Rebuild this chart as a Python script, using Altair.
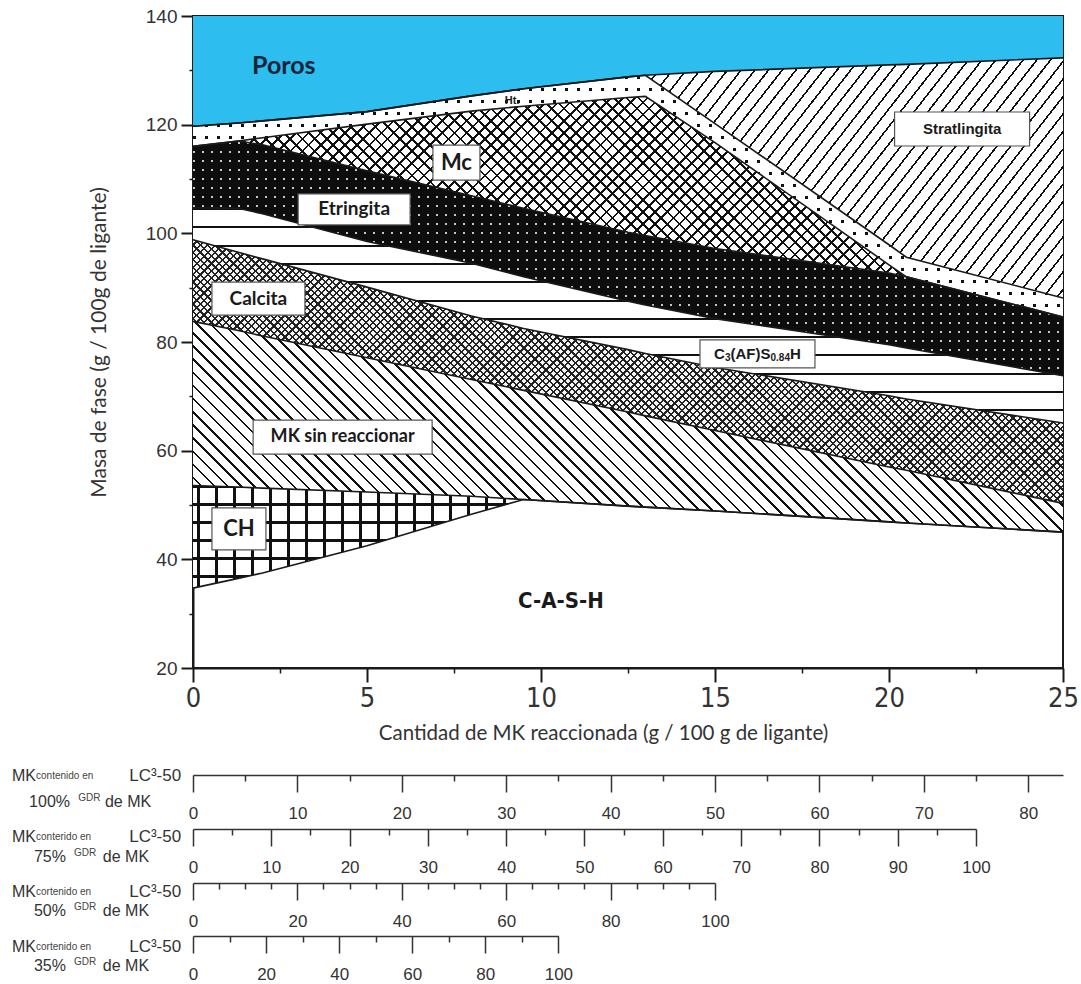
import altair as alt
import numpy as np
import pandas as pd

# ---------------- data ----------------
x_mk = [0, 1.3, 2, 5, 8, 9.5, 12.5, 13, 15, 20, 20.5, 25]
cash_top    = [34.7, 36.5, 37.5, 42.5, 48.3, 51.0, 49.8, 49.6, 48.9, 46.9, 46.7, 45.0]
ch_top      = [53.6, 53.3, 53.1, 52.4, 51.6, 51.0, 49.8, 49.6, 48.9, 46.9, 46.7, 45.0]
mk_top      = [83.8, 82.1, 81.1, 77.1, 73.1, 71.1, 67.1, 66.4, 63.7, 57.0, 56.4, 50.3]
calcita_top = [98.8, 96.5, 95.3, 90.1, 84.8, 82.5, 78.6, 77.9, 75.3, 70.1, 69.5, 65.1]
c3afs_top   = [104.7, 104.6, 103.6, 98.5, 94.5, 92.0, 87.5, 86.8, 84.3, 79.5, 78.9, 73.8]
etr_top     = [116.0, 117.0, 116.3, 111.5, 106.9, 104.6, 100.2, 99.6, 97.2, 92.7, 92.0, 84.6]
mc_top      = [116.0, 117.0, 117.6, 120.1, 122.5, 123.4, 125.0, 125.2, 116.7, 94.2, 92.0, 84.6]
ht_top      = [119.7, 120.3, 120.7, 122.4, 125.3, 126.6, 128.8, 129.1, 120.2, 97.9, 95.6, 88.1]
strat_top   = [119.7, 120.3, 120.7, 122.4, 125.3, 126.6, 128.8, 129.1, 129.8, 131.0, 131.1, 132.3]

x_ticks = [0, 5, 10, 15, 20, 25]
x_minor = [2.5, 7.5, 12.5, 17.5, 22.5]
y_ticks = [20, 40, 60, 80, 100, 120, 140]
y_minor = [30, 50, 70, 90, 110, 130]

# secondary scales: MK content of LC3-50 for each GDR
gdr_levels = [1.00, 0.75, 0.50, 0.35]
sub_major = [list(range(0, 81, 10)), list(range(0, 101, 10)),
             list(range(0, 101, 20)), list(range(0, 101, 20))]
sub_minor = [list(range(5, 80, 10)), list(range(5, 100, 10)),
             [v for v in range(5, 100, 5) if v % 20], list(range(10, 100, 20))]
sub_pct = ["100%", "75%", "50%", "35%"]
sub_small = ["contenido en", "conterido en", "cortenido en", "cortenido en"]

region_labels = ["Poros", "Ht.", "Mc", "Etringita", "Stratlingita", "Calcita",
                 "MK sin reaccionar", "CH", "C-A-S-H"]
label_x = [2.61, 9.17, 7.57, 4.63, 22.10, 1.88, 4.30, 1.32, 10.57]
label_y = [130.8, 124.4, 113.0, 104.4, 119.2, 88.0, 62.5, 45.6, 32.3]
# C3(AF)S0.84H label: pieces, subscripts flagged
c3_parts = ["C", "3", "(AF)S", "0.84", "H"]
c3_sub = [False, True, False, True, False]
c3_x, c3_y = 16.22, 77.8

# ---------------- layout ----------------
W, H = 870, 652
XD = [0, 25]
YD = [20, 140]
SX = W / (XD[1] - XD[0])
SY = H / (YD[1] - YD[0])
NARROW = "Liberation Sans Narrow, DejaVu Sans Condensed, Roboto Condensed, sans-serif"
ARIAL = "Liberation Sans, Arial, sans-serif"
CALIBRI = "Lato, Open Sans, sans-serif"
INK = "#1a1a1a"
TXT = "#333333"
CLEAR = "rgba(0,0,0,0)"

df = pd.DataFrame({"x": x_mk, "L0": cash_top, "L1": ch_top, "L2": mk_top,
                   "L3": calcita_top, "L4": c3afs_top, "L5": etr_top,
                   "L6": mc_top, "L7": ht_top, "L8": strat_top})

xscale = alt.Scale(domain=XD, nice=False, zero=False)
yscale = alt.Scale(domain=YD, nice=False, zero=False)

ax_x = alt.Axis(values=x_ticks, title="Cantidad de MK reaccionada (g / 100 g de ligante)",
                tickSize=14, tickWidth=2, tickColor=INK, domainColor=INK, domainWidth=2,
                labelFont=NARROW, labelFontSize=27, labelColor=TXT, labelPadding=3,
                labelFlush=False, labelOverlap=False, titleFont=CALIBRI, titleFontSize=20.5,
                titleFontWeight="normal", titleColor=TXT, titlePadding=12,
                titleX=410, titleAlign="center", grid=False)
ax_y = alt.Axis(values=y_ticks, title="Masa de fase (g / 100g de ligante)",
                tickSize=12, tickWidth=2, tickColor=INK, domainColor=INK, domainWidth=2,
                labelFont=ARIAL, labelFontSize=19, labelColor=TXT, labelPadding=4,
                labelFlush=False, labelOverlap=False, titleFont=CALIBRI, titleFontSize=21,
                titleFontWeight="normal", titleColor=TXT, titlePadding=36, grid=False)

X = alt.X("x:Q", scale=xscale, axis=ax_x)


def hatch(bbox, angle, period, lw, line_color, bg, phase=0.0):
    bx, by, w, h = bbox
    a = np.radians(angle)
    nx, ny = float(np.sin(a)), float(np.cos(a))
    corners = [(0.0, 0.0), (w, 0.0), (0.0, h), (w, h)]
    proj = [nx * cx + ny * cy for cx, cy in corners]
    i0 = int(np.argmin(proj))
    s = max(proj) - min(proj)
    cx, cy = corners[i0]
    D = nx * nx * w * w + ny * ny * h * h
    k = s / D
    x1, y1 = cx / w, cy / h
    x2, y2 = x1 + k * nx * w, y1 + k * ny * h
    p0 = nx * (bx + cx) + ny * (by + cy)
    start = (phase - p0) % period - period
    stops = [alt.GradientStop(color=bg, offset=0)]
    while start < s:
        a0 = max(start, 0.0) / s
        a1 = min(start + lw, s) / s
        if a1 > 0:
            a0, a1 = round(a0, 6), round(a1, 6)
            stops += [alt.GradientStop(color=bg, offset=a0),
                      alt.GradientStop(color=line_color, offset=a0),
                      alt.GradientStop(color=line_color, offset=a1),
                      alt.GradientStop(color=bg, offset=a1)]
        start += period
    stops.append(alt.GradientStop(color=bg, offset=1))
    return alt.LinearGradient(gradient="linear", stops=stops,
                              x1=round(x1, 6), y1=round(y1, 6), x2=round(x2, 6), y2=round(y2, 6))


def bbox(lo_col, hi_col, x0, x1):
    sub = df[(df.x >= x0) & (df.x <= x1)]
    top = max(sub[hi_col].max(), sub[lo_col].max())
    bot = min(sub[hi_col].min(), sub[lo_col].min())
    return ((x0 - XD[0]) * SX, (YD[1] - top) * SY, (x1 - x0) * SX, (top - bot) * SY)


def area(lo_col, hi_col, x0, x1, fill):
    return (alt.Chart(df).transform_filter(alt.FieldRangePredicate(field="x", range=[x0, x1]))
            .mark_area(fill=fill, fillOpacity=1, interpolate="linear")
            .encode(x=X, y=alt.Y(f"{lo_col}:Q", scale=yscale, axis=ax_y), y2=f"{hi_col}:Q"))


def dots(lo_col, hi_col, x0, x1, step, size, dot_color, bg):
    """dot grid: vertical dot-coloured stripes, then a bg layer with transparent horizontal gaps"""
    bb = bbox(lo_col, hi_col, x0, x1)
    return [area(lo_col, hi_col, x0, x1, hatch(bb, 90, step, size, dot_color, bg)),
            area(lo_col, hi_col, x0, x1, hatch(bb, 0, step, size, CLEAR, bg))]


def text_layer(frame, **kw):
    return (alt.Chart(frame).mark_text(**kw)
            .encode(x=alt.X("x:Q", scale=xscale, axis=ax_x),
                    y=alt.Y("y:Q", scale=yscale, axis=ax_y), text="t:N"))


layers = []
# CH: square grid
bb = bbox("L0", "L1", 0, 9.5)
layers += [area("L0", "L1", 0, 9.5, hatch(bb, 90, 18, 2.6, "#111", "#ffffff", 4)),
           area("L0", "L1", 0, 9.5, hatch(bb, 0, 18, 2.6, "#111", CLEAR, 1))]
# MK sin reaccionar: "\" hatch
bb = bbox("L1", "L2", 0, 25)
layers += [area("L1", "L2", 0, 25, hatch(bb, -45, 9.3, 1.8, "#111", "#ffffff"))]
# Calcita: fine mesh
bb = bbox("L2", "L3", 0, 25)
layers += [area("L2", "L3", 0, 25, hatch(bb, 45, 5.2, 1.6, "#222", "#f4f4f4")),
           area("L2", "L3", 0, 25, hatch(bb, -45, 5.2, 1.6, "#222", CLEAR))]
# C3(AF)S0.84H: horizontal lines
bb = bbox("L3", "L4", 0, 25)
layers += [area("L3", "L4", 0, 25, hatch(bb, 0, 18.3, 2.0, "#111", "#ffffff", 192))]
# Etringita: black with white dots
layers += dots("L4", "L5", 0, 25, 9, 2.2, "#c8c8c8", "#0d0d0d")
# Mc: diamond crosshatch
bb = bbox("L5", "L6", 1.3, 20.5)
layers += [area("L5", "L6", 1.3, 20.5, hatch(bb, 45, 8.6, 1.9, "#111", "#ffffff")),
           area("L5", "L6", 1.3, 20.5, hatch(bb, -45, 8.6, 1.9, "#111", CLEAR))]
# Ht: white with black dots
layers += dots("L6", "L7", 0, 25, 12, 2.6, "#111", "#ffffff")
# Stratlingita: "/" hatch
bb = bbox("L7", "L8", 13, 25)
layers += [area("L7", "L8", 13, 25, hatch(bb, 52, 10.8, 1.6, "#111", "#ffffff"))]
# Poros
layers += [alt.Chart(df).mark_area(fill="#2dbdef", fillOpacity=1).encode(
    x=X, y=alt.Y("L8:Q", scale=yscale, axis=ax_y), y2=alt.datum(YD[1]))]

# boundary lines
layers += [alt.Chart(df).transform_fold(["L0", "L1", "L2", "L3", "L4", "L5", "L6", "L7", "L8"])
           .mark_line(color=INK, strokeWidth=1.6)
           .encode(x=X, y=alt.Y("value:Q", scale=yscale, axis=ax_y), detail="key:N")]


def box_layer(cx, cy, bw_px, bh_px):
    bw, bh = bw_px / SX / 2, bh_px / SY / 2
    box = pd.DataFrame({"x": [cx - bw], "x2": [cx + bw], "y": [cy - bh], "y2": [cy + bh]})
    return (alt.Chart(box).mark_rect(fill="white", stroke="#555", strokeWidth=1.2)
            .encode(x=alt.X("x:Q", scale=xscale, axis=ax_x), x2="x2:Q",
                    y=alt.Y("y:Q", scale=yscale, axis=ax_y), y2="y2:Q"))


# region labels
lab_font = [CALIBRI, ARIAL, CALIBRI, CALIBRI, ARIAL, CALIBRI, CALIBRI, CALIBRI, NARROW]
lab_size = [25, 11, 22, 19, 15, 19, 18, 22, 22]
lab_color = ["#16243a", INK, INK, INK, INK, INK, INK, INK, INK]
lab_box = [None, None, (47, 35), (112, 31), (135, 34), (93, 33), (179, 34), (54, 42), None]
for t, lx, ly, f, s, c, b in zip(region_labels, label_x, label_y, lab_font, lab_size, lab_color, lab_box):
    if b is not None:
        layers.append(box_layer(lx, ly, *b))
    layers.append(text_layer(pd.DataFrame({"x": [lx], "y": [ly], "t": [t]}),
                             font=f, fontSize=s, fontWeight="bold", color=c,
                             align="center", baseline="middle"))

# C3(AF)S0.84H with real subscripts
layers.append(box_layer(c3_x, c3_y, 115, 28))
arial_w = {"C": 0.722, "(": 0.333, "A": 0.722, "F": 0.611, ")": 0.333, "S": 0.667, "H": 0.722,
           "0": 0.556, "3": 0.556, "8": 0.556, "4": 0.556, ".": 0.278}
fs_big, fs_sub = 15, 10
widths = [sum(arial_w[ch] for ch in p) * (fs_sub if sb else fs_big) for p, sb in zip(c3_parts, c3_sub)]
off = -sum(widths) / 2
for p, sb, wd in zip(c3_parts, c3_sub, widths):
    layers.append(text_layer(pd.DataFrame({"x": [c3_x], "y": [c3_y], "t": [p]}),
                             font=ARIAL, fontSize=fs_sub if sb else fs_big, fontWeight="bold",
                             color=INK, align="left", baseline="middle",
                             dx=off, dy=4 if sb else 0))
    off += wd

# labels of the secondary scales (positions in main-chart units)
line1_y = [-0.80, -12.02, -22.15, -32.27]
line2_y = [-5.58, -15.71, -25.64, -35.77]
small_x = [-4.51, -4.51, -4.51, -4.51]
pct_x = [-4.71, -4.57, -4.57, -4.57]
gdr_x = [-3.30, -3.42, -3.42, -3.42]
dem_x = [-2.53, -2.59, -2.59, -2.59]
left_rows, right_rows, small_rows = [], [], []
for i in range(4):
    left_rows += [("MK", -5.20, line1_y[i]), (sub_pct[i], pct_x[i], line2_y[i]),
                  ("de MK", dem_x[i], line2_y[i])]
    right_rows += [("LC\u00b3-50", -0.34, line1_y[i])]
    small_rows += [(sub_small[i], small_x[i], line1_y[i] + 0.35),
                   ("GDR", gdr_x[i], line2_y[i] + 1.1)]
cols = ["t", "x", "y"]
layers.append(text_layer(pd.DataFrame(left_rows, columns=cols), font=ARIAL, fontSize=16,
                         color=TXT, align="left", baseline="alphabetic"))
layers.append(text_layer(pd.DataFrame(right_rows, columns=cols), font=ARIAL, fontSize=17,
                         color=TXT, align="right", baseline="alphabetic"))
layers.append(text_layer(pd.DataFrame(small_rows, columns=cols), font=ARIAL, fontSize=10,
                         color="#444", align="left", baseline="alphabetic"))

main = alt.layer(*layers)

# minor ticks of the main axes
outer = [main]
outer.append(alt.Chart(pd.DataFrame({"v": x_minor})).mark_point(opacity=0).encode(
    x=alt.X("v:Q", scale=alt.Scale(domain=XD, nice=False, zero=False),
            axis=alt.Axis(orient="bottom", values=x_minor, tickSize=5, tickWidth=1.5, tickColor=INK,
                          labels=False, domain=False, title=None, grid=False))))
outer.append(alt.Chart(pd.DataFrame({"v": y_minor})).mark_point(opacity=0).encode(
    y=alt.Y("v:Q", scale=alt.Scale(domain=YD, nice=False, zero=False),
            axis=alt.Axis(orient="left", values=y_minor, tickSize=4, tickWidth=1.5, tickColor=INK,
                          labels=False, domain=False, title=None, grid=False))))

# secondary x scales
offsets = [107, 161, 215, 268]
for i, g in enumerate(gdr_levels):
    full = (XD[1] - XD[0]) / (0.30 * g)          # MK content at x = 25
    dom = [0, min(full, 100)]
    rng = [0, W * dom[1] / full]
    sc = alt.Scale(domain=dom, range=rng, nice=False, zero=False)
    outer.append(alt.Chart(pd.DataFrame({"v": sub_major[i]})).mark_point(opacity=0).encode(
        x=alt.X("v:Q", scale=sc,
                axis=alt.Axis(orient="bottom", offset=offsets[i], values=sub_major[i], tickSize=17,
                              tickWidth=1.5, tickColor=TXT, domainColor=TXT, domainWidth=1.5,
                              labelFont=ARIAL, labelFontSize=17, labelColor=TXT, labelPadding=13,
                              labelFlush=False, labelOverlap=False, title=None, grid=False))))
    outer.append(alt.Chart(pd.DataFrame({"v": sub_minor[i]})).mark_point(opacity=0).encode(
        x=alt.X("v:Q", scale=sc,
                axis=alt.Axis(orient="bottom", offset=offsets[i], values=sub_minor[i], tickSize=6,
                              tickWidth=1.5, tickColor=TXT, labels=False, domain=False,
                              title=None, grid=False))))

chart = (alt.layer(*outer)
         .resolve_scale(x="independent", y="independent")
         .properties(width=W, height=H, autosize=alt.AutoSizeParams(type="none"),
                     padding={"left": 193, "top": 16, "right": 18, "bottom": 316})
         .configure_view(stroke=INK, strokeWidth=2))

chart.save("out.html", embed_options={"renderer": "svg", "actions": False})
